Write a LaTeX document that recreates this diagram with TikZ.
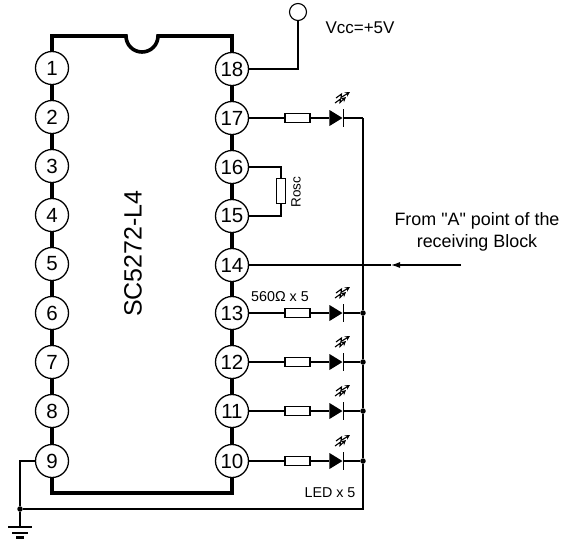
\documentclass[tikz,border=0pt]{standalone}
\usepackage{fontspec}
\setmainfont{Liberation Sans}[Ligatures=TeXOff]
\usetikzlibrary{shapes.geometric,arrows.meta}
\tikzset{
  glow/.pic={
    \draw[line width=0.7pt] (0,-9) -- (0,9);
    \draw[line width=1.1pt, -{Stealth[length=5pt,width=5pt]}] (-8,-15) -- (-2.5,-19) -- (-3,-15.5) -- (3,-21);
    \draw[line width=1.1pt, -{Stealth[length=5pt,width=5pt]}] (-7,-20) -- (-1.5,-24) -- (-2,-20.5) -- (7,-26);
  },
}
\begin{document}
\begin{tikzpicture}[
    x=1pt, y=-1pt,
    pin/.style={circle, draw, fill=white, line width=1.3pt, inner sep=0pt,
                minimum size=33pt, font=\fontsize{20.5}{22}\selectfont},
    res/.style={rectangle, draw, fill=white, line width=1.1pt, inner sep=0pt,
                minimum width=25pt, minimum height=9pt},
    rosc/.style={res, minimum width=9pt, minimum height=25pt},
    diode/.style={isosceles triangle, isosceles triangle stretches, fill=black,
                  inner sep=0pt, minimum width=16pt, minimum height=13pt, anchor=apex},
    dot/.style={circle, fill=black, inner sep=0pt, minimum size=5.5pt},
    wire/.style={line width=1.1pt},
    chip/.style={line width=3.6pt, line join=miter},
    lbl/.style={font=\fontsize{14.3}{16}\selectfont},
    bigl/.style={font=\fontsize{17.9}{22}\selectfont, align=center},
  ]
  \useasboundingbox (0,0) rectangle (563,542);

  % ===== Chip body =====
  \draw[chip] (52,36) -- (126,36) arc[start angle=180, end angle=360, x radius=16, y radius=-16]
    -- (232,36) -- (232,493) -- (52,493) -- cycle;
  \node[font=\fontsize{25}{28}\selectfont, rotate=90] (name) at (133,253.5) {SC5272-L4};

  % ===== Pins, left side =====
  \node[pin] (p1) at (52,68) {1};
  \node[pin] (p2) at (52,117) {2};
  \node[pin] (p3) at (52,166) {3};
  \node[pin] (p4) at (52,215) {4};
  \node[pin] (p5) at (52,264) {5};
  \node[pin] (p6) at (52,313) {6};
  \node[pin] (p7) at (52,362) {7};
  \node[pin] (p8) at (52,411) {8};
  \node[pin] (p9) at (52,461) {9};

  % ===== Pins, right side =====
  \node[pin] (p18) at (232,69) {18};
  \node[pin] (p17) at (232,118) {17};
  \node[pin] (p16) at (232,167) {16};
  \node[pin] (p15) at (232,216) {15};
  \node[pin] (p14) at (232,265) {14};
  \node[pin] (p13) at (232,313) {13};
  \node[pin] (p12) at (232,362) {12};
  \node[pin] (p11) at (232,411) {11};
  \node[pin] (p10) at (232,461) {10};

  % Supply
  \node[circle, draw, line width=1.1pt, inner sep=0pt, minimum size=17pt] (vcc) at (298,12) {};
  \node[font=\fontsize{17}{20}\selectfont] (vcclbl) at (360,28) {Vcc=+5V};
  \draw[wire] (p18) -| (vcc);

  % Oscillator resistor
  \node[rosc] (ro) at (281,191) {};
  \node[font=\fontsize{13.5}{16}\selectfont, rotate=90] (rolbl) at (296,192) {Rosc};
  \draw[wire] (p16) -| (ro);
  \draw[wire] (p15) -| (ro);

  % Input from receiver
  \coordinate (from) at (461,265);
  \coordinate (tip) at (391,265);
  \node[bigl] (fromlbl) at (477,232) {From "A" point of the\\receiving Block};
  \draw[wire, -{Latex[length=9pt,width=6pt]}] (from) -- (tip);
  \draw[wire] (tip) -- (p14);

  % ===== LED rows =====
  \coordinate (j17) at (363,118);
  \node[dot] (j13) at (363,313) {};
  \node[dot] (j12) at (363,362) {};
  \node[dot] (j11) at (363,411) {};
  \node[dot] (j10) at (363,461) {};

  % Row 17
  \node[res] (r17) at (297.5,118) {};
  \node[diode] (d17) at (343,118) {};
  \pic at (d17.apex) {glow};
  \draw[wire] (p17) -- (r17) -- (d17);
  \draw[wire] (d17.apex) -- (j17);

  % Row 13
  \node[res] (r13) at (297.5,313) {};
  \node[diode] (d13) at (343,313) {};
  \pic at (d13.apex) {glow};
  \draw[wire] (p13) -- (r13) -- (d13);
  \draw[wire] (d13.apex) -- (j13);
  \node[lbl] (rlbl) at (280,297) {560Ω x 5};

  % Row 12
  \node[res] (r12) at (297.5,362) {};
  \node[diode] (d12) at (343,362) {};
  \pic at (d12.apex) {glow};
  \draw[wire] (p12) -- (r12) -- (d12);
  \draw[wire] (d12.apex) -- (j12);

  % Row 11
  \node[res] (r11) at (297.5,411) {};
  \node[diode] (d11) at (343,411) {};
  \pic at (d11.apex) {glow};
  \draw[wire] (p11) -- (r11) -- (d11);
  \draw[wire] (d11.apex) -- (j11);

  % Row 10
  \node[res] (r10) at (297.5,461) {};
  \node[diode] (d10) at (343,461) {};
  \pic at (d10.apex) {glow};
  \draw[wire] (p10) -- (r10) -- (d10);
  \draw[wire] (d10.apex) -- (j10);
  \node[lbl] (ledlbl) at (330,493) {LED x 5};

  % ===== Common return and ground =====
  \node[dot] (jg) at (20,509) {};
  \coordinate (gnd) at (20,527);
  \draw[wire] (j17) -- (j13) -- (j12) -- (j11) -- (j10) |- (jg);
  \draw[wire] (p9) -| (jg);
  \draw[wire] (jg) -- (gnd);
  \draw[line width=2pt] ([xshift=-12pt]gnd) -- ([xshift=12pt]gnd);
  \draw[line width=2pt] ([xshift=-8pt,yshift=-5.5pt]gnd) -- ([xshift=8pt,yshift=-5.5pt]gnd);
  \draw[line width=3pt] ([xshift=-4pt,yshift=-10.5pt]gnd) -- ([xshift=4pt,yshift=-10.5pt]gnd);
\end{tikzpicture}
\end{document}
